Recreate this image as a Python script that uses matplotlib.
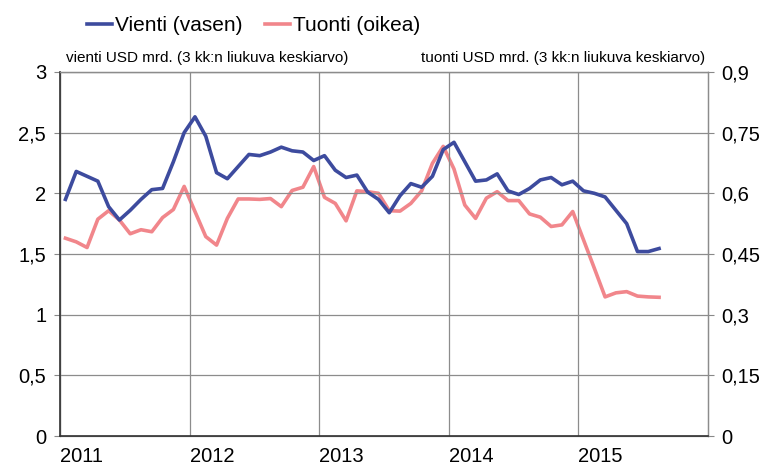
import matplotlib.pyplot as plt
import numpy as np

plt.rcParams['font.family'] = ['Liberation Sans', 'DejaVu Sans']

# monthly values Jan 2011 - Aug 2015
vienti = [1.95, 2.18, 2.14, 2.10, 1.89, 1.78, 1.86, 1.95, 2.03, 2.04, 2.26, 2.50,
          2.63, 2.47, 2.17, 2.12, 2.22, 2.32, 2.31, 2.34, 2.38, 2.35, 2.34, 2.27,
          2.31, 2.19, 2.13, 2.15, 2.01, 1.95, 1.84, 1.98, 2.08, 2.05, 2.14, 2.36,
          2.42, 2.26, 2.10, 2.11, 2.16, 2.02, 1.99, 2.04, 2.11, 2.13, 2.07, 2.10,
          2.02, 2.00, 1.97, 1.86, 1.75, 1.52, 1.52, 1.545]
tuonti = [0.489, 0.480, 0.466, 0.536, 0.557, 0.534, 0.500, 0.510, 0.505, 0.540, 0.560, 0.617,
          0.555, 0.493, 0.472, 0.538, 0.586, 0.586, 0.585, 0.587, 0.567, 0.607, 0.615, 0.666,
          0.590, 0.575, 0.532, 0.606, 0.604, 0.600, 0.557, 0.556, 0.575, 0.606, 0.674, 0.716,
          0.660, 0.571, 0.538, 0.588, 0.604, 0.582, 0.582, 0.549, 0.541, 0.518, 0.522, 0.555,
          0.485, 0.415, 0.344, 0.354, 0.357, 0.346, 0.344, 0.343]
years = ['2011', '2012', '2013', '2014', '2015']
left_ticks = [0, 0.5, 1, 1.5, 2, 2.5, 3]
right_ticks = [0, 0.15, 0.3, 0.45, 0.6, 0.75, 0.9]

def fi(v):
    return ('%g' % v).replace('.', ',')

months = np.arange(len(vienti)) + 0.5

fig = plt.figure(figsize=(7.7, 4.73), dpi=100)
ax = fig.add_axes([0.078, 0.078, 0.841, 0.770])
ax2 = ax.twinx()

blue = '#3d4b9e'
pink = '#f1868b'

l1, = ax.plot(months, vienti, color=blue, lw=2.6, label='Vienti (vasen)', zorder=3)
l2, = ax2.plot(months, tuonti, color=pink, lw=2.6, label='Tuonti (oikea)', zorder=2)
ax.set_zorder(ax2.get_zorder() + 1)
ax.patch.set_visible(False)

ax.set_xlim(0, 60)
ax.set_ylim(0, 3)
ax2.set_ylim(0, 0.9)

ax.set_yticks(left_ticks)
ax.set_yticklabels([fi(v) for v in left_ticks], fontsize=14.5)
ax2.set_yticks(right_ticks)
ax2.set_yticklabels([fi(v) for v in right_ticks], fontsize=14.5)

ax.set_xticks(np.arange(0, 60, 12))
ax.set_xticklabels(years, fontsize=14.5, ha='left')
ax.tick_params(axis='x', length=0, pad=8)
ax.tick_params(axis='y', length=4, color='#888888', pad=6)
ax2.tick_params(axis='y', length=4, color='#888888', pad=6)

ax.grid(True, color='#8c8c8c', lw=0.9)
for a in (ax, ax2):
    for s in a.spines.values():
        s.set_color('#8c8c8c')
        s.set_linewidth(0.9)
ax.spines['left'].set_color('#333333')
ax.spines['bottom'].set_color('#333333')
ax.spines['left'].set_linewidth(1.2)
ax.spines['bottom'].set_linewidth(1.2)

fig.text(0.086, 0.862, 'vienti USD mrd. (3 kk:n liukuva keskiarvo)', fontsize=11, ha='left', va='bottom')
fig.text(0.916, 0.862, 'tuonti USD mrd. (3 kk:n liukuva keskiarvo)', fontsize=11, ha='right', va='bottom')

fig.legend(handles=[l1, l2], loc='upper left', bbox_to_anchor=(0.088, 1.005), ncol=2,
           frameon=False, fontsize=15, handlelength=1.2, handletextpad=0.15, columnspacing=1.1)

fig.savefig('out.png', dpi=100)
